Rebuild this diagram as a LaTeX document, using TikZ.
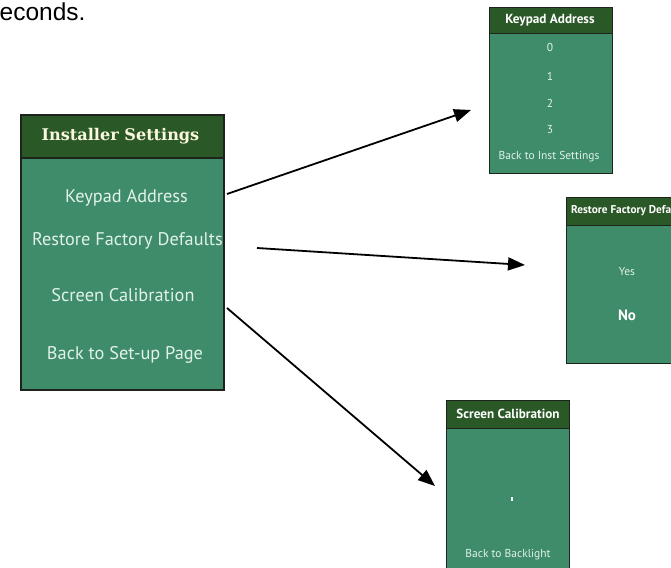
\documentclass[tikz,border=0pt]{standalone}
\usepackage{fontspec}
\setmainfont{PT Sans}
\newfontfamily\serifbold{DejaVu Serif}
\newfontfamily\arialfont{Liberation Sans}
\usetikzlibrary{arrows.meta}
\definecolor{panelgreen}{RGB}{62,140,106}
\definecolor{headgreen}{RGB}{42,88,38}
\definecolor{edgecol}{RGB}{28,36,28}
\definecolor{txtcol}{RGB}{226,242,230}
\definecolor{ttlcol}{RGB}{250,248,222}
\tikzset{
  panel/.style={draw=edgecol, fill=panelgreen, inner sep=0pt, anchor=north west},
  header/.style={draw=edgecol, fill=headgreen, inner sep=0pt, anchor=north west},
  bigtxt/.style={text=txtcol, inner sep=0pt, font=\fontsize{18.3}{18}\selectfont},
  smalltxt/.style={text=txtcol, inner sep=0pt, font=\fontsize{11.5}{12}\selectfont},
  smallttl/.style={text=white, inner sep=0pt, font=\bfseries\fontsize{13.2}{13}\selectfont},
  arr/.style={line width=1.8pt, -{Triangle[length=17pt,width=13pt]}}
}
\begin{document}
\begin{tikzpicture}[x=1pt,y=-1pt]
\useasboundingbox (0,0) rectangle (671,567);
\clip (0,0) rectangle (671,567);

% caption fragment
\node[anchor=base west, inner sep=0pt, font=\arialfont\fontsize{24.5}{25}\selectfont] (cap) at (-0.5,21) {econds.};

% main panel
\node[panel, line width=2pt, minimum width=203pt, minimum height=275pt] (main) at (20,114) {};
\node[header, line width=2pt, minimum width=203pt, minimum height=43pt] (mainh) at (20,114) {};
\node[text=ttlcol, inner sep=0pt, font=\serifbold\bfseries\fontsize{16.1}{16}\selectfont] (mt) at (120.5,136) {Installer Settings};
\node[bigtxt] (m1) at (126.5,198) {Keypad Address};
\node[bigtxt] (m2) at (127.5,241) {Restore Factory Defaults};
\node[bigtxt] (m3) at (123,295) {Screen Calibration};
\node[bigtxt] (m4) at (125,355) {Back to Set-up Page};

% keypad address panel
\node[panel, line width=1.2pt, minimum width=123pt, minimum height=166pt] (kp) at (489,7) {};
\node[header, line width=1.2pt, minimum width=123pt, minimum height=26pt] (kph) at (489,7) {};
\node[smallttl] (kt) at (550,20) {Keypad Address};
\node[smalltxt] (k0) at (550,47) {0};
\node[smalltxt] (k1) at (550,76) {1};
\node[smalltxt] (k2) at (550,103) {2};
\node[smalltxt] (k3) at (550,130) {3};
\node[smalltxt] (k4) at (549,157) {Back to Inst Settings};

% restore factory defaults panel
\node[panel, line width=1.2pt, minimum width=120pt, minimum height=166pt] (rf) at (566,197) {};
\node[header, line width=1.2pt, minimum width=120pt, minimum height=28pt] (rfh) at (566,197) {};
\node[text=white, inner sep=0pt, anchor=west, font=\bfseries\fontsize{11.3}{12}\selectfont] (rt) at (571,211) {Restore Factory Defa};
\node[smalltxt] (ry) at (627,272) {Yes};
\node[text=white, inner sep=0pt, font=\bfseries\fontsize{15}{15}\selectfont] (rn) at (627,315) {No};

% screen calibration panel
\node[panel, line width=1.2pt, minimum width=123pt, minimum height=180pt] (sc) at (446,400) {};
\node[header, line width=1.2pt, minimum width=123pt, minimum height=28pt] (sch) at (446,400) {};
\node[smallttl] (st) at (508,414) {Screen Calibration};
\node[fill=white, inner sep=0pt, minimum width=2pt, minimum height=4pt] (sd) at (512,499) {};
\node[smalltxt] (sb) at (508,555) {Back to Backlight};

% arrows
\coordinate (a1s) at (227,194);
\coordinate (a1e) at (471,110);
\coordinate (a2s) at (257,248);
\coordinate (a2e) at (525,265);
\coordinate (a3s) at (227,308);
\coordinate (a3e) at (435,486);
\draw[arr] (a1s) -- (a1e);
\draw[arr] (a2s) -- (a2e);
\draw[arr] (a3s) -- (a3e);
\end{tikzpicture}
\end{document}
